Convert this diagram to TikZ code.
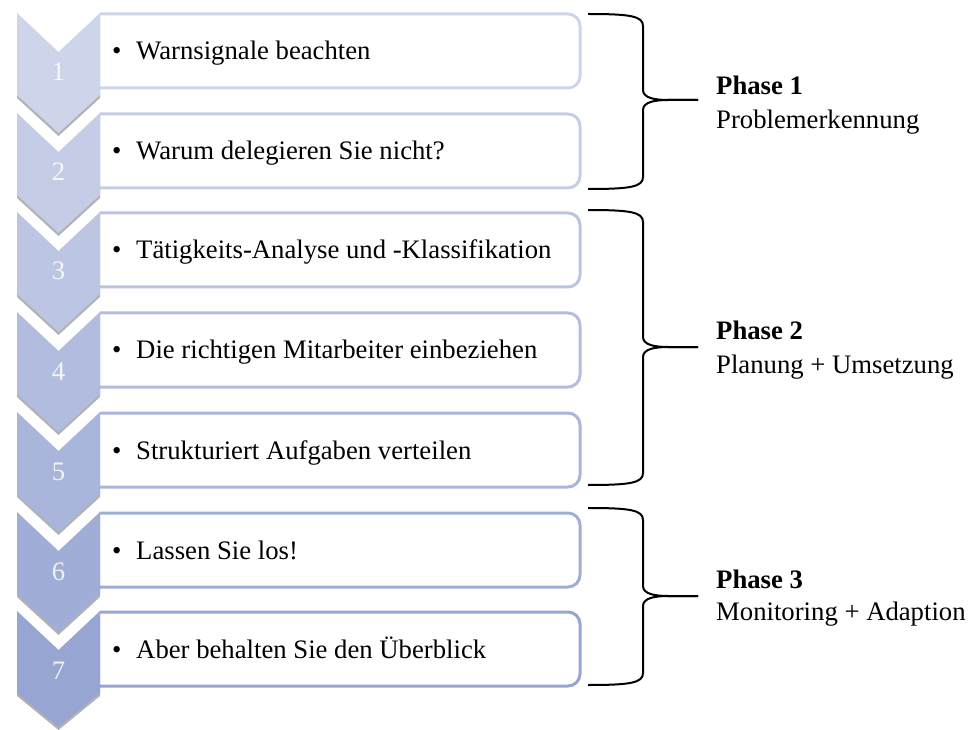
\documentclass[tikz,border=0pt]{standalone}
\usepackage{fontspec}
\setmainfont{Liberation Serif}
\usetikzlibrary{shadows}
\definecolor{stepA}{RGB}{206,212,234}
\definecolor{stepB}{RGB}{151,165,211}
\colorlet{stepcol1}{stepA}
\colorlet{stepcol2}{stepB!17!stepA}
\colorlet{stepcol3}{stepB!33!stepA}
\colorlet{stepcol4}{stepB!50!stepA}
\colorlet{stepcol5}{stepB!67!stepA}
\colorlet{stepcol6}{stepB!83!stepA}
\colorlet{stepcol7}{stepB}
\begin{document}
\begin{tikzpicture}[x=1pt,y=-1pt,
  chev/.style={drop shadow={shadow xshift=0pt,shadow yshift=-3pt,opacity=.3,fill=black}},
  itembox/.style={line width=3pt,rounded corners=12pt},
  num/.style={anchor=base,inner sep=0pt,text=white,text opacity=.85,font=\fontsize{26.7}{30}\selectfont},
  item/.style={anchor=base west,inner sep=0pt,font=\fontsize{26.7}{30}\selectfont},
  phase/.style={anchor=base west,inner sep=0pt,font=\fontsize{26.7}{30}\selectfont},
  brace/.style={line width=2pt}]
\useasboundingbox (0,0) rectangle (978,730);
% text boxes
\draw[itembox,draw=stepcol1] (100,14) -- (580,14) -- (580,88) -- (100,88);
\draw[itembox,draw=stepcol2] (100,114) -- (580,114) -- (580,188) -- (100,188);
\draw[itembox,draw=stepcol3] (100,213) -- (580,213) -- (580,287) -- (100,287);
\draw[itembox,draw=stepcol4] (100,313) -- (580,313) -- (580,387) -- (100,387);
\draw[itembox,draw=stepcol5] (100,413) -- (580,413) -- (580,487) -- (100,487);
\draw[itembox,draw=stepcol6] (100,513) -- (580,513) -- (580,587) -- (100,587);
\draw[itembox,draw=stepcol7] (100,612) -- (580,612) -- (580,686) -- (100,686);
% chevrons
\fill[stepcol1,chev] (17,13) -- (58.5,52) -- (100,13) -- (100,95) -- (58.5,133) -- (17,95) -- cycle;
\fill[stepcol2,chev] (17,113) -- (58.5,152) -- (100,113) -- (100,195) -- (58.5,233) -- (17,195) -- cycle;
\fill[stepcol3,chev] (17,212) -- (58.5,251) -- (100,212) -- (100,294) -- (58.5,332) -- (17,294) -- cycle;
\fill[stepcol4,chev] (17,312) -- (58.5,351) -- (100,312) -- (100,394) -- (58.5,432) -- (17,394) -- cycle;
\fill[stepcol5,chev] (17,412) -- (58.5,451) -- (100,412) -- (100,494) -- (58.5,532) -- (17,494) -- cycle;
\fill[stepcol6,chev] (17,512) -- (58.5,551) -- (100,512) -- (100,594) -- (58.5,632) -- (17,594) -- cycle;
\fill[stepcol7,chev] (17,611) -- (58.5,650) -- (100,611) -- (100,693) -- (58.5,727) -- (17,693) -- cycle;
% numbers
\node[num] (n1) at (58.5,81) {1};
\node[num] (n2) at (58.5,181) {2};
\node[num] (n3) at (58.5,280) {3};
\node[num] (n4) at (58.5,380) {4};
\node[num] (n5) at (58.5,480) {5};
\node[num] (n6) at (58.5,580) {6};
\node[num] (n7) at (58.5,679) {7};
% items
\node[item] (t1) at (112,60) {\textbullet\hspace{.55em}Warnsignale beachten};
\node[item] (t2) at (112,160) {\textbullet\hspace{.55em}Warum delegieren Sie nicht?};
\node[item] (t3) at (112,259) {\textbullet\hspace{.55em}Tätigkeits-Analyse und -Klassifikation};
\node[item] (t4) at (112,359) {\textbullet\hspace{.55em}Die richtigen Mitarbeiter einbeziehen};
\node[item] (t5) at (112,459) {\textbullet\hspace{.55em}Strukturiert Aufgaben verteilen};
\node[item] (t6) at (112,559) {\textbullet\hspace{.55em}Lassen Sie los!};
\node[item] (t7) at (112,658) {\textbullet\hspace{.55em}Aber behalten Sie den Überblick};
% braces
\draw[brace] (588,14) .. controls (630,14) and (643,16) .. (643,26) -- (643,90) .. controls (643,98) and (655,100) .. (668,100) -- (698,100);
\draw[brace] (698,100) -- (668,100) .. controls (655,100) and (643,102) .. (643,110) -- (643,177) .. controls (643,187) and (630,189) .. (588,189);
\draw[brace] (588,210) .. controls (630,210) and (643,212) .. (643,222) -- (643,337) .. controls (643,345) and (655,347) .. (668,347) -- (698,347);
\draw[brace] (698,347) -- (668,347) .. controls (655,347) and (643,349) .. (643,357) -- (643,473) .. controls (643,483) and (630,485) .. (588,485);
\draw[brace] (588,508) .. controls (630,508) and (643,510) .. (643,520) -- (643,586) .. controls (643,594) and (655,596) .. (668,596) -- (698,596);
\draw[brace] (698,596) -- (668,596) .. controls (655,596) and (643,598) .. (643,606) -- (643,673) .. controls (643,683) and (630,685) .. (588,685);
% phases
\node[phase] (p1) at (716,95) {\textbf{Phase 1}};
\node[phase] (p1b) at (716,129) {Problemerkennung};
\node[phase] (p2) at (716,340) {\textbf{Phase 2}};
\node[phase] (p2b) at (716,373) {Planung + Umsetzung};
\node[phase] (p3) at (716,588) {\textbf{Phase 3}};
\node[phase] (p3b) at (716,620) {Monitoring + Adaption};
\end{tikzpicture}
\end{document}
